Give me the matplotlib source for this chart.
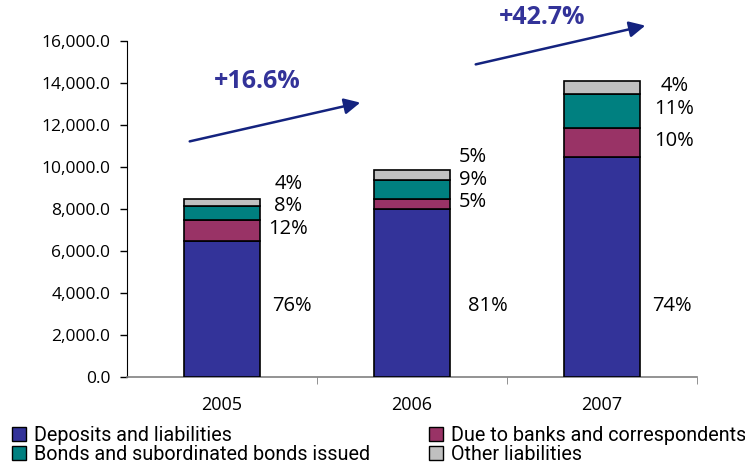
import matplotlib
matplotlib.use("Agg")
import matplotlib.pyplot as plt
import numpy as np
from matplotlib.patches import Patch, FancyArrowPatch
from matplotlib.ticker import FuncFormatter

# Liabilities structure by year
years = ["2005", "2006", "2007"]
totals = [8500.0, 9860.0, 14100.0]
series_names = [
    "Deposits and liabilities",
    "Due to banks and correspondents",
    "Bonds and subordinated bonds issued",
    "Other liabilities",
]
# shares of the total, in percent (labels show them rounded)
shares = {
    "Deposits and liabilities": [76.0, 81.0, 74.3],
    "Due to banks and correspondents": [12.0, 5.0, 9.9],
    "Bonds and subordinated bonds issued": [8.0, 9.0, 11.4],
    "Other liabilities": [4.0, 5.0, 4.4],
}
growth_labels = ["+16.6%", "+42.7%"]

colors = {
    "Deposits and liabilities": "#333399",
    "Due to banks and correspondents": "#993366",
    "Bonds and subordinated bonds issued": "#008080",
    "Other liabilities": "#C0C0C0",
}

plt.rcParams["font.family"] = ["Open Sans", "DejaVu Sans"]

fig = plt.figure(figsize=(7.45, 4.65), dpi=100)
ax = fig.add_axes([127 / 745, 1 - 377 / 465, 570 / 745, 336 / 465])

x = np.arange(len(years))
bar_w = 0.4
bottom = np.zeros(len(years))
seg_bounds = []
for name in series_names:
    vals = np.array(totals) * np.array(shares[name]) / 100.0
    ax.bar(x, vals, bar_w, bottom=bottom, color=colors[name],
           edgecolor="black", linewidth=1.2, zorder=3)
    seg_bounds.append((bottom.copy(), bottom + vals))
    bottom = bottom + vals

# Percentage labels: the large share sits low, the small ones are stacked
label_dx = [0.37, 0.40, 0.37]
small_dx = [0.35, 0.32, 0.38]
for i in range(len(years)):
    ax.text(x[i] + label_dx[i], 3400, f"{shares[series_names[0]][i]:.0f}%",
            ha="center", va="center", fontsize=14.5, color="black")
    prev = None
    for k in range(1, len(series_names)):
        lo, hi = seg_bounds[k]
        y = (lo[i] + hi[i]) / 2 + 80
        if prev is not None and y < prev + 1080:
            y = prev + 1080
        prev = y
        ax.text(x[i] + small_dx[i], y, f"{shares[series_names[k]][i]:.0f}%",
                ha="center", va="center", fontsize=14.5, color="black")

ax.set_xlim(-0.5, len(years) - 0.5)
ax.set_ylim(0, 16000)
ax.set_yticks(np.arange(0, 16001, 2000))
ax.yaxis.set_major_formatter(FuncFormatter(lambda v, p: f"{v:,.1f}"))
ax.set_xticks(x)
ax.set_xticklabels(years)
ax.tick_params(axis="x", length=0, pad=14, labelsize=13)
ax.tick_params(axis="y", length=5, direction="out", width=1, labelsize=12.5, pad=7)
# boundary ticks between categories
ax.set_xticks(np.arange(0.5, len(years), 1.0), minor=True)
ax.tick_params(axis="x", which="minor", length=5, direction="out", color="#808080")

for s in ["top", "right"]:
    ax.spines[s].set_visible(False)
ax.spines["left"].set_color("black")
ax.spines["bottom"].set_color("#808080")
ax.spines["bottom"].set_linewidth(1.2)

# Growth arrows in figure pixel space
arrow_color = "#14237f"
text_color = "#333399"
arrows = [((187, 142), (363, 102)), ((473, 65), (648, 25))]
text_pos = [(257, 82), (542, 18)]
for (p0, p1), tp, lab in zip(arrows, text_pos, growth_labels):
    fp0 = (p0[0] / 745, 1 - p0[1] / 465)
    fp1 = (p1[0] / 745, 1 - p1[1] / 465)
    fig.add_artist(FancyArrowPatch(
        fp0, fp1, transform=fig.transFigure, arrowstyle="-|>",
        mutation_scale=24, color=arrow_color, linewidth=1.8))
    fig.text(tp[0] / 745, 1 - tp[1] / 465, lab, ha="center", va="center",
             fontsize=18, fontweight="bold", color=text_color)

# Two-column legend
legend_font = {"family": ["Roboto", "DejaVu Sans"], "size": 14.2}
def make_legend(names, xpos):
    handles = [Patch(facecolor=colors[n], edgecolor="black", linewidth=1.0) for n in names]
    lg = fig.legend(handles, names, loc="upper left",
                    bbox_to_anchor=(xpos / 745, 1 - 426 / 465),
                    frameon=False, prop=legend_font, handlelength=0.7,
                    handleheight=0.7, handletextpad=0.4, labelspacing=0.0,
                    borderpad=0, borderaxespad=0)
    return lg

make_legend([series_names[0], series_names[2]], 12)
make_legend([series_names[1], series_names[3]], 429)

fig.savefig("out.png", dpi=100)
